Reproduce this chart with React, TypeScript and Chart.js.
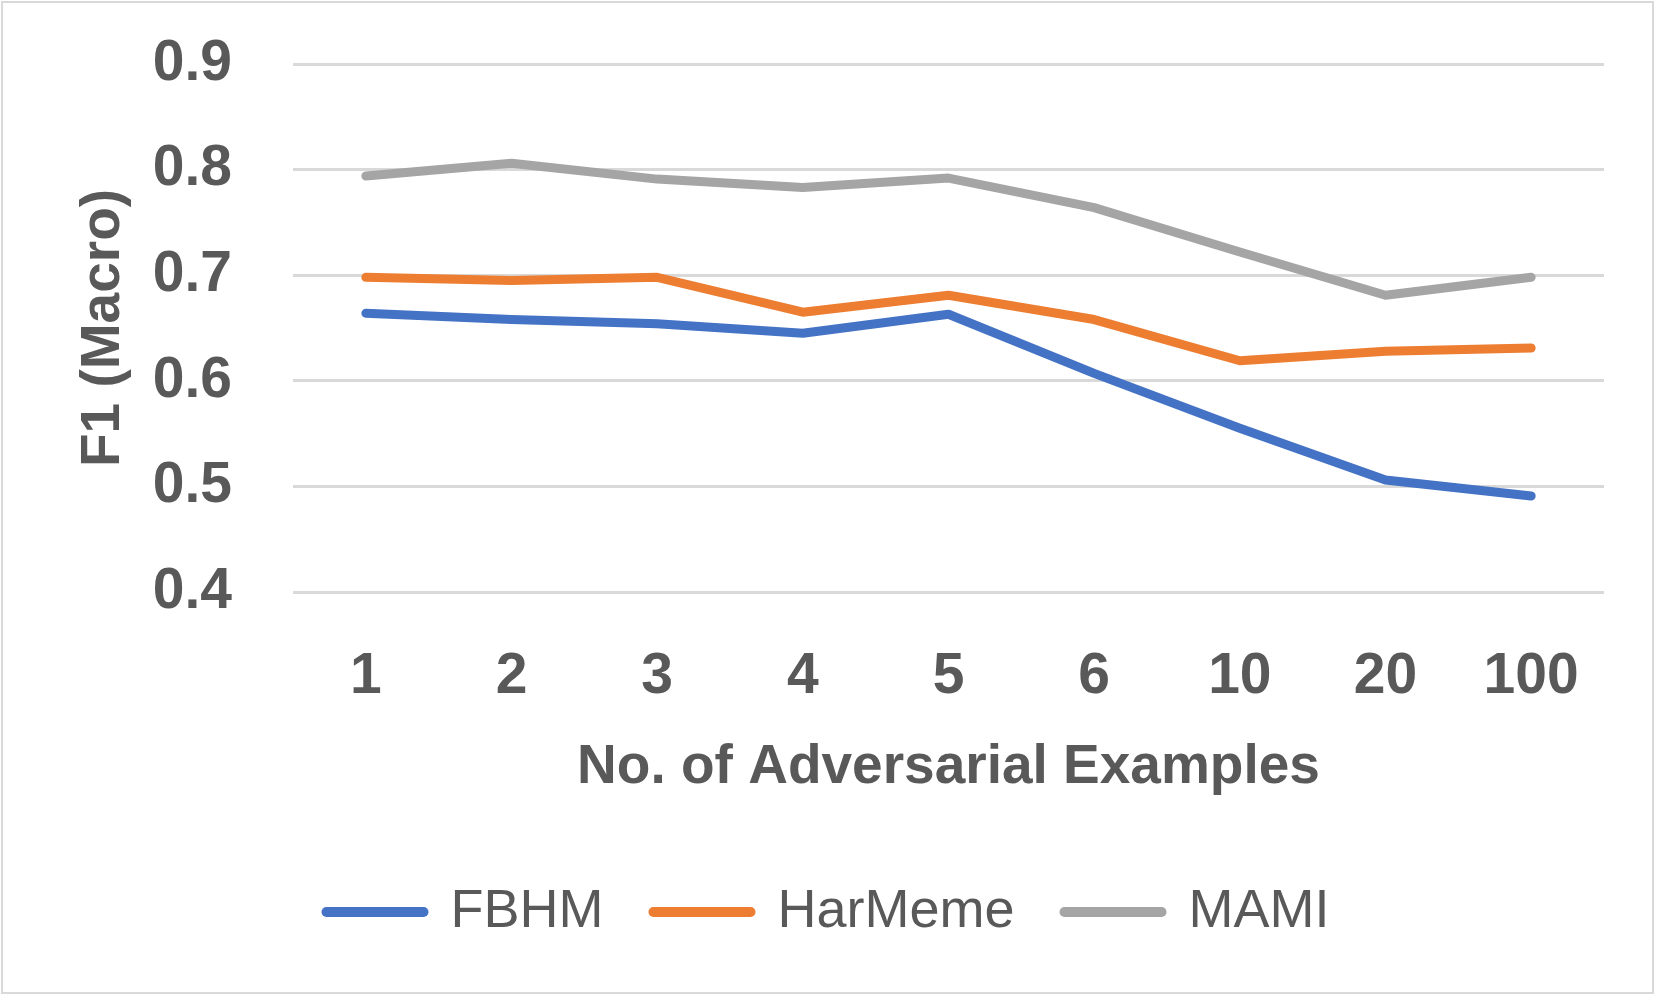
import { useEffect, useRef } from 'react';
import { Chart, registerables } from 'chart.js';

Chart.register(...registerables);

const categories = ['1', '2', '3', '4', '5', '6', '10', '20', '100'];
const fbhm = [0.664, 0.658, 0.654, 0.645, 0.663, 0.607, 0.555, 0.506, 0.491];
const harmeme = [0.698, 0.695, 0.698, 0.665, 0.681, 0.658, 0.619, 0.628, 0.631];
const mami = [0.794, 0.806, 0.791, 0.783, 0.792, 0.764, 0.722, 0.681, 0.698];
const yTicks = [0.4, 0.5, 0.6, 0.7, 0.8, 0.9];

const textColor = '#595959';
const fontFamily = '"Liberation Sans", Arial, sans-serif';

// the legend is centred on the whole picture, not between the layout paddings
const legendShift = {
	id: 'legendShift',
	afterLayout(chart: Chart) {
		const legend = chart.legend;
		if (legend) {
			legend.left += 16;
			legend.right += 16;
		}
	},
};

export default function App() {
	const chartRef = useRef<HTMLCanvasElement>(null);

	useEffect(() => {
		document.body.style.margin = '0';
		if (!chartRef.current) return;
		const series = [
			{ label: 'FBHM', data: fbhm, color: '#4472C4' },
			{ label: 'HarMeme', data: harmeme, color: '#ED7D31' },
			{ label: 'MAMI', data: mami, color: '#A5A5A5' },
		];
		const chart = new Chart(chartRef.current, {
			type: 'line',
			data: {
				labels: categories,
				datasets: series.map((s) => ({
					label: s.label,
					data: s.data,
					borderColor: s.color,
					backgroundColor: s.color,
					borderWidth: 9,
					borderCapStyle: 'round',
					borderJoinStyle: 'round',
					pointRadius: 0,
					pointStyle: 'line',
					tension: 0,
				})),
			},
			plugins: [legendShift],
			options: {
				animation: false,
				responsive: false,
				devicePixelRatio: 1,
				layout: { padding: { top: 64, left: 20, right: 55, bottom: 50 } },
				plugins: {
					tooltip: { enabled: false },
					legend: {
						position: 'bottom',
						labels: {
							usePointStyle: true,
							pointStyleWidth: 97,
							padding: 50,
							color: textColor,
							font: { family: fontFamily, size: 54 },
							generateLabels: (c) =>
								Chart.defaults.plugins.legend.labels
									.generateLabels(c)
									.map((l) => ({ ...l, lineWidth: 10, lineCap: 'round' })),
						},
					},
				},
				scales: {
					x: {
						offset: true,
						grid: { display: false, drawTicks: false },
						border: { display: false },
						afterFit: (axis) => {
							axis.height = 243;
						},
						ticks: {
							color: textColor,
							padding: 51,
							font: { family: fontFamily, size: 57, weight: 'bold' },
						},
						title: {
							display: true,
							text: 'No. of Adversarial Examples',
							color: textColor,
							padding: { top: 0, bottom: 34 },
							font: { family: fontFamily, size: 55, weight: 'bold' },
						},
					},
					y: {
						min: 0.4,
						max: 0.9,
						afterBuildTicks: (axis) => {
							axis.ticks = yTicks.map((v) => ({ value: v }));
						},
						afterFit: (axis) => {
							axis.width = 273;
							axis.paddingTop = 0;
							axis.paddingBottom = 0;
						},
						grid: { color: '#D9D9D9', lineWidth: 3, drawTicks: false },
						border: { display: false },
						ticks: {
							color: textColor,
							padding: 61,
							callback: (v) => Number(v).toFixed(1),
							font: { family: fontFamily, size: 57, weight: 'bold' },
						},
						title: {
							display: true,
							text: 'F1 (Macro)',
							color: textColor,
							padding: { top: 51, bottom: 0 },
							font: { family: fontFamily, size: 55, weight: 'bold' },
						},
					},
				},
			},
		});
		return () => chart.destroy();
	}, []);

	return (
		<div style={{ position: 'fixed', left: 0, top: 0, width: 1659, height: 999, background: '#fff' }}>
			<canvas ref={chartRef} width={1659} height={999} style={{ display: 'block' }}></canvas>
			<div
				style={{
					position: 'absolute',
					left: 1,
					top: 1,
					width: 1653,
					height: 993,
					boxSizing: 'border-box',
					border: '2px solid #D9D9D9',
					pointerEvents: 'none',
				}}
			></div>
		</div>
	);
}
